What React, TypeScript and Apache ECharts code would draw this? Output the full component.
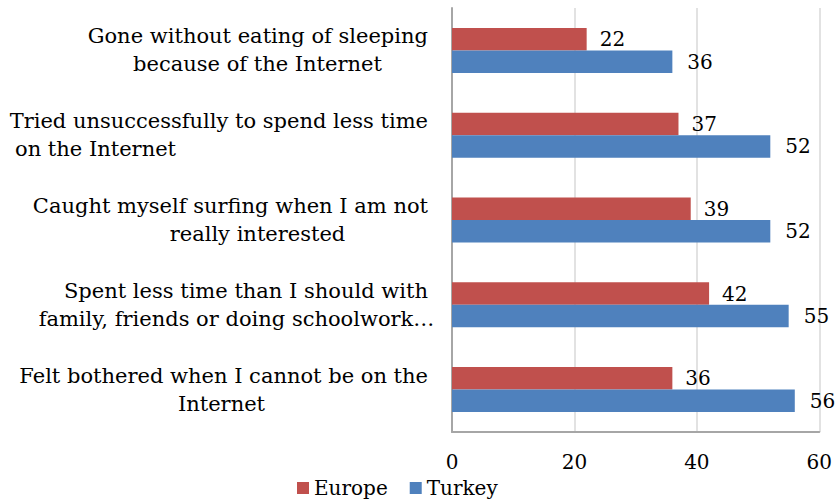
import React, { useEffect, useRef } from "react";
import * as echarts from "echarts";

const categories = [
  "Gone without eating of sleeping\nbecause of the Internet",
  "Tried unsuccessfully to spend less time\non the Internet",
  "Caught myself surfing when I am not\nreally interested",
  "Spent less time than I should with\nfamily, friends or doing schoolwork…",
  "Felt bothered when I cannot be on the\nInternet",
];
const europe = [22, 37, 39, 42, 36];
const turkey = [36, 52, 52, 55, 56];
const xTicks = [0, 20, 40, 60];

const FONT = "DejaVu Serif";
const FS = 21;
const secondLineStyle = ["cp", "l", "cp", "cs", "c"];

export default function App() {
  const ref = useRef<HTMLDivElement>(null);
  useEffect(() => {
    if (!ref.current) return;
    const chart = echarts.init(ref.current, null, { renderer: "svg" });
    const txt = { fontFamily: FONT, fontSize: 20, color: "#000" };
    const lab = { fontFamily: FONT, fontSize: FS, color: "#000" };
    chart.setOption({
      animation: false,
      textStyle: { fontFamily: FONT },
      legend: {
        data: ["Europe", "Turkey"],
        left: 292,
        top: 473,
        itemWidth: 12,
        itemHeight: 12,
        itemGap: 22,
        icon: "rect",
        textStyle: { ...txt },
      },
      grid: { left: 452, right: 15, top: 8, bottom: 67, containLabel: false },
      xAxis: {
        type: "value",
        min: xTicks[0],
        max: xTicks[xTicks.length - 1],
        interval: 20,
        axisLine: { show: true, lineStyle: { color: "#A6A6A6", width: 2 } },
        axisTick: { show: false },
        splitLine: { show: true, lineStyle: { color: "#D9D9D9", width: 1.5 } },
        axisLabel: { ...txt, margin: 20 },
      },
      yAxis: {
        type: "category",
        data: categories,
        inverse: true,
        axisLine: { show: true, lineStyle: { color: "#A6A6A6", width: 2 } },
        axisTick: { show: false },
        axisLabel: {
          margin: 24,
          width: 413,
          overflow: "none",
          formatter: (v: string, i: number) => {
            const [a, b] = v.split("\n");
            return `{r|${a}}\n{${secondLineStyle[i]}|${b}}`;
          },
          rich: {
            r: { align: "right", ...lab, lineHeight: 28 },
            l: { align: "left", ...lab, lineHeight: 28 },
            c: { align: "center", ...lab, lineHeight: 28 },
            cs: { align: "center", ...lab, lineHeight: 28, padding: [0, 0, 0, 30] },
            cp: { align: "center", ...lab, lineHeight: 28, padding: [0, 0, 0, 72] },
          },
        },
      },
      series: [
        {
          name: "Europe",
          type: "bar",
          data: europe,
          barWidth: 22.5,
          barGap: "0%",
          itemStyle: { color: "#C0504D" },
          label: { show: true, position: "right", distance: 13, ...txt },
        },
        {
          name: "Turkey",
          type: "bar",
          data: turkey,
          barWidth: 22.5,
          barGap: "0%",
          itemStyle: { color: "#4F81BD" },
          label: { show: true, position: "right", distance: 15, ...txt },
        },
      ],
    });
    return () => chart.dispose();
  }, []);
  return (
    <div
      ref={ref}
      style={{ position: "fixed", left: 0, top: 0, width: 835, height: 499, background: "#fff" }}
    />
  );
}
